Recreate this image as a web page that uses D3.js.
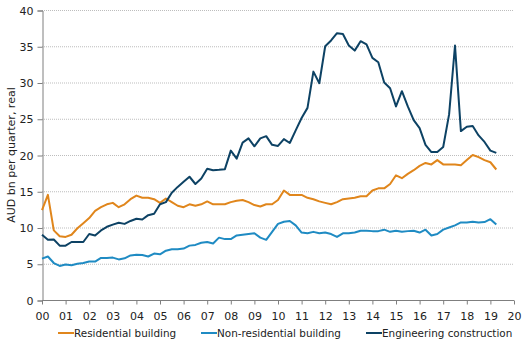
<!DOCTYPE html>
<html>
<head>
<meta charset="utf-8">
<script src="https://cdn.jsdelivr.net/npm/d3@7"></script>
<style>
  body { margin: 0; background: #fff; }
  svg text { font-family: "DejaVu Sans", Verdana, sans-serif; font-size: 11px; fill: #222; }
  .legend text { font-size: 10.4px; }
</style>
</head>
<body>
<div id="chart"></div>
<script>
// Quarterly construction work done, 2000 Q1 - 2019 Q2 (AUD bn per quarter, real)
var yearTicks = ['00','01','02','03','04','05','06','07','08','09','10','11','12','13','14','15','16','17','18','19','20'];
var yTicks = [0, 5, 10, 15, 20, 25, 30, 35, 40];
var seriesNames = ['Residential building', 'Non-residential building', 'Engineering construction'];

var residential = [12.4, 14.5, 9.6, 8.8, 8.7, 9.0, 9.9, 10.6, 11.3, 12.3, 12.8, 13.2, 13.4, 12.8, 13.2, 13.9,
  14.4, 14.1, 14.1, 13.9, 13.4, 14.0, 13.5, 13.0, 12.8, 13.2, 13.0, 13.2, 13.6, 13.2, 13.2, 13.2,
  13.5, 13.7, 13.8, 13.5, 13.1, 12.9, 13.2, 13.2, 13.8, 15.1, 14.5, 14.5, 14.5, 14.1, 13.9, 13.6,
  13.4, 13.2, 13.5, 13.9, 14.0, 14.1, 14.3, 14.3, 15.1, 15.4, 15.4, 16.0, 17.2, 16.8, 17.4, 17.9,
  18.5, 18.9, 18.7, 19.3, 18.7, 18.7, 18.7, 18.6, 19.3, 20.0, 19.7, 19.3, 19.0, 18.0];

var nonResidential = [5.7, 6.0, 5.1, 4.7, 4.9, 4.8, 5.0, 5.1, 5.3, 5.3, 5.8, 5.8, 5.85, 5.6, 5.75, 6.15,
  6.25, 6.2, 6.0, 6.4, 6.3, 6.8, 7.0, 7.0, 7.1, 7.5, 7.6, 7.9, 8.0, 7.8, 8.6, 8.4,
  8.4, 8.9, 9.0, 9.1, 9.2, 8.6, 8.3, 9.4, 10.5, 10.8, 10.9, 10.3, 9.3, 9.2, 9.4, 9.2,
  9.3, 9.1, 8.7, 9.2, 9.2, 9.3, 9.55, 9.55, 9.5, 9.5, 9.7, 9.4, 9.55, 9.4, 9.5, 9.55,
  9.3, 9.7, 8.9, 9.1, 9.7, 10.0, 10.3, 10.7, 10.7, 10.8, 10.7, 10.75, 11.15, 10.4];

var engineering = [9.0, 8.3, 8.35, 7.5, 7.5, 8.0, 8.0, 8.0, 9.1, 8.9, 9.6, 10.1, 10.4, 10.65, 10.5, 10.9,
  11.2, 11.1, 11.7, 11.9, 13.2, 13.5, 14.8, 15.6, 16.3, 17.0, 16.0, 16.75, 18.1, 17.9, 17.95, 18.05,
  20.6, 19.5, 21.7, 22.3, 21.2, 22.3, 22.6, 21.4, 21.25, 22.2, 21.65, 23.4, 25.1, 26.5, 31.5, 29.9,
  35.0, 35.8, 36.8, 36.7, 35.1, 34.4, 35.7, 35.25, 33.4, 32.8, 30.0, 29.2, 26.7, 28.8, 26.7, 24.8,
  23.7, 21.4, 20.4, 20.4, 21.1, 25.6, 35.1, 23.3, 23.9, 24.0, 22.7, 21.8, 20.6, 20.3];

var colors = ['#e0861c', '#1f8bc3', '#0d4264'];

var width = 525, height = 345,
    margin = { top: 10, right: 11, bottom: 45, left: 42 };

var svg = d3.select('#chart').append('svg')
  .attr('width', width).attr('height', height);

var x = d3.scaleLinear().domain([0, 20]).range([margin.left, width - margin.right]);
var y = d3.scaleLinear().domain([0, 40]).range([height - margin.bottom, margin.top]);

// dotted gridlines
svg.append('g').selectAll('line').data(yTicks.slice(1)).enter().append('line')
  .attr('x1', x(0)).attr('x2', x(20))
  .attr('y1', function (d) { return y(d) + 0.5; })
  .attr('y2', function (d) { return y(d) + 0.5; })
  .attr('stroke', '#bdbdbd').attr('stroke-dasharray', '1,1');

var yAxis = svg.append('g')
  .attr('transform', 'translate(' + (x(0) + 0.5) + ',0.5)')
  .call(d3.axisLeft(y).tickValues(yTicks).tickSize(5).tickPadding(4));

var xAxis = svg.append('g')
  .attr('transform', 'translate(0,' + (y(0) + 0.5) + ')')
  .call(d3.axisBottom(x).tickValues(d3.range(21)).tickSize(4).tickPadding(8)
    .tickFormat(function (d) { return yearTicks[d]; }));

[yAxis, xAxis].forEach(function (g) {
  g.select('.domain').attr('stroke', '#7f7f7f');
  g.selectAll('.tick line').attr('stroke', '#7f7f7f');
  g.selectAll('text').style('font-family', '"DejaVu Sans", Verdana, sans-serif').style('font-size', '11px').attr('fill', '#222');
});
xAxis.select('.domain').attr('d', 'M' + x(0) + ',0H' + x(20));

svg.append('text')
  .attr('transform', 'translate(15,' + y(20) + ') rotate(-90)')
  .attr('text-anchor', 'middle')
  .text('AUD bn per quarter, real');

var line = d3.line()
  .x(function (d, i) { return x(i / 4); })
  .y(function (d) { return y(d); });

[residential, nonResidential, engineering].forEach(function (s, k) {
  svg.append('path').datum(s)
    .attr('d', line)
    .attr('fill', 'none')
    .attr('stroke', colors[k])
    .attr('stroke-width', 2)
    .attr('stroke-linejoin', 'round');
});

// legend
var legendX = [58, 201, 366];
var legend = svg.append('g').attr('class', 'legend').selectAll('g').data(seriesNames).enter().append('g')
  .attr('transform', function (d, i) { return 'translate(' + legendX[i] + ',333)'; });
legend.append('line')
  .attr('x1', 0).attr('x2', 16)
  .attr('stroke', function (d, i) { return colors[i]; })
  .attr('stroke-width', 2);
legend.append('text')
  .attr('x', 16).attr('dy', '0.35em')
  .text(function (d) { return d; });
</script>
</body>
</html>
